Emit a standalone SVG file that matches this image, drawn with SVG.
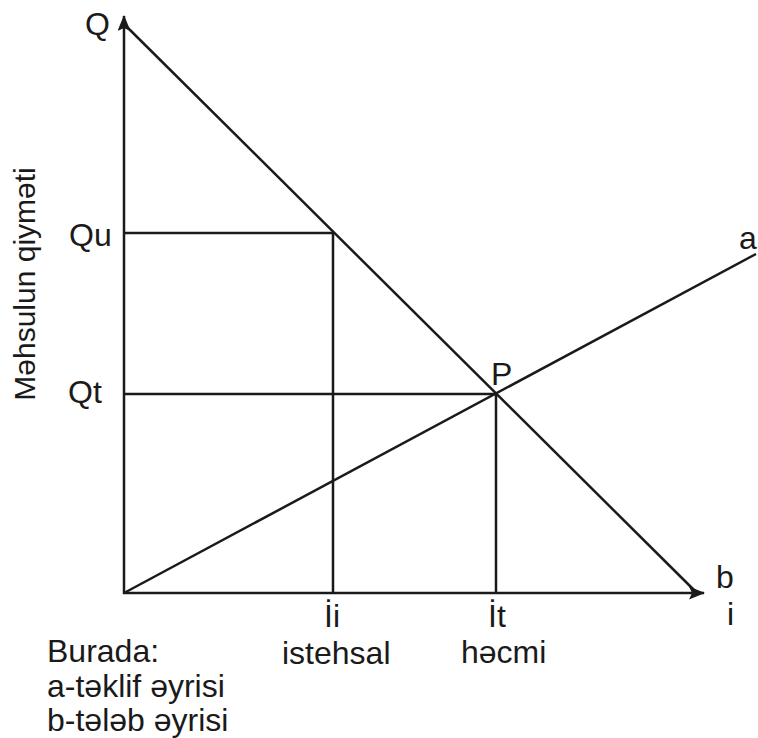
<svg xmlns="http://www.w3.org/2000/svg" width="758" height="738" viewBox="0 0 758 738">
<style>
  .ln { stroke: #1a1a1a; stroke-width: 2.5; fill: none; }
  .tx { font-family: "Liberation Sans", Arial, sans-serif; font-size: 32px; fill: #1a1a1a; }
</style>
<defs>
  <marker id="arr" viewBox="0 0 16 13" refX="15" refY="6.5" markerWidth="16" markerHeight="13" markerUnits="userSpaceOnUse" orient="auto">
    <path d="M0,0 L16,6.5 L0,13 L3,6.5 Z" fill="#1a1a1a"/>
  </marker>
</defs>
<rect width="758" height="738" fill="#ffffff"/>
<g id="connectors">
  <line id="y-axis" class="ln" x1="124" y1="594" x2="124" y2="16" marker-end="url(#arr)"/>
  <line id="x-axis" class="ln" x1="123" y1="593" x2="704" y2="593" marker-end="url(#arr)"/>
  <line id="curve-b" class="ln" x1="127" y1="27" x2="695" y2="591"/>
  <line id="curve-a" class="ln" x1="124" y1="593" x2="756" y2="254"/>
  <line id="qu-h" class="ln" x1="124" y1="233" x2="333" y2="233"/>
  <line id="qt-h" class="ln" x1="124" y1="394" x2="496" y2="394"/>
  <line id="ii-v" class="ln" x1="333" y1="233" x2="333" y2="593"/>
  <line id="it-v" class="ln" x1="496" y1="394" x2="496" y2="593"/>
</g>
<g id="label-Q"><text class="tx" x="85" y="35">Q</text></g>
<g id="label-Qu"><text class="tx" x="69" y="246">Qu</text></g>
<g id="label-Qt"><text class="tx" x="68" y="403">Qt</text></g>
<g id="label-yaxis"><text class="tx" text-anchor="middle" style="font-size:30px" transform="translate(35,284) rotate(-90)">Məhsulun qiyməti</text></g>
<g id="label-P"><text class="tx" x="491" y="385">P</text></g>
<g id="label-a"><text class="tx" x="739" y="249">a</text></g>
<g id="label-b"><text class="tx" x="716" y="588">b</text></g>
<g id="label-i"><text class="tx" x="727" y="625">i</text></g>
<g id="label-Ii"><text class="tx" x="324" y="627">İi</text></g>
<g id="label-It"><text class="tx" x="488" y="627">İt</text></g>
<g id="label-istehsal"><text class="tx" x="282" y="664">istehsal</text></g>
<g id="label-hecmi"><text class="tx" x="461" y="663">həcmi</text></g>
<g id="legend">
  <text class="tx" x="47" y="662">Burada:</text>
  <text class="tx" x="47" y="697">a-təklif əyrisi</text>
  <text class="tx" x="47" y="731">b-tələb əyrisi</text>
</g>
</svg>
